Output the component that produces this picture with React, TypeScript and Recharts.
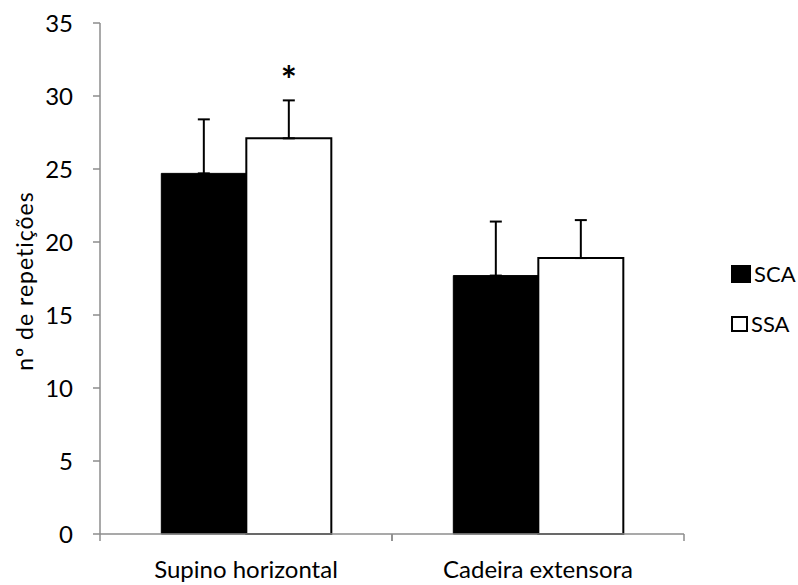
import React from 'react';
import { BarChart, Bar, XAxis, YAxis, ErrorBar, LabelList } from 'recharts';

const categories = ['Supino horizontal', 'Cadeira extensora'];
const seriesNames = ['SCA', 'SSA'];
const scaValues = [24.7, 17.7];
const scaErrors = [3.7, 3.7];
const ssaValues = [27.1, 18.9];
const ssaErrors = [2.6, 2.6];
const ssaMarks = ['*', ''];
const yTicks = [0, 5, 10, 15, 20, 25, 30, 35];

const FONT = 'Lato, "Open Sans", sans-serif';
const AXIS_GRAY = '#8c8c8c';

const data = categories.map((name, i) => ({
  name,
  sca: scaValues[i],
  scaErr: [0, scaErrors[i]],
  ssa: ssaValues[i],
  ssaErr: [0, ssaErrors[i]],
  mark: ssaMarks[i],
}));

const CategoryTick = (props: any) => {
  const { x, y, payload } = props;
  const half = payload?.offset ?? 0;
  return (
    <g>
      <line x1={x - half} x2={x - half} y1={y} y2={y + 7} stroke={AXIS_GRAY} strokeWidth={1.5} />
      <line x1={x + half} x2={x + half} y1={y} y2={y + 7} stroke={AXIS_GRAY} strokeWidth={1.5} />
      <text x={x} y={y + 44} textAnchor="middle" fontFamily={FONT} fontSize={24} fill="#000">
        {payload.value}
      </text>
    </g>
  );
};

const StarLabel = (props: any) => {
  const { x, y, width, height, value, index } = props;
  if (!value) return null;
  const pxPerUnit = height / ssaValues[index];
  const errTop = y - ssaErrors[index] * pxPerUnit;
  return (
    <text x={x + width / 2} y={errTop - 6} textAnchor="middle" fontFamily={FONT} fontWeight="bold" fontSize={38} fill="#000">
      {value}
    </text>
  );
};

export default function App() {
  return (
    <div style={{ position: 'absolute', left: 0, top: 0, width: 798, height: 585, background: '#fff' }}>
      <BarChart
        width={798}
        height={585}
        data={data}
        margin={{ top: 23, right: 114, bottom: 0, left: 10 }}
        barCategoryGap="21%"
        barGap={0}
      >
        <XAxis
          dataKey="name"
          axisLine={{ stroke: AXIS_GRAY, strokeWidth: 1.5 }}
          tickLine={false}
          tickSize={0}
          tickMargin={0}
          tick={<CategoryTick />}
          interval={0}
          height={51}
        />
        <YAxis
          width={90}
          domain={[0, 35]}
          ticks={yTicks}
          interval={0}
          axisLine={{ stroke: AXIS_GRAY, strokeWidth: 1.5 }}
          tickLine={{ stroke: AXIS_GRAY, strokeWidth: 1.5 }}
          tickSize={7}
          tickMargin={20}
          tick={{ fill: '#000', fontSize: 24, fontFamily: FONT }}
        />
        <Bar dataKey="sca" name={seriesNames[0]} fill="#000" stroke="#000" strokeWidth={1} isAnimationActive={false}>
          <ErrorBar dataKey="scaErr" direction="y" width={6} stroke="#000" strokeWidth={2} isAnimationActive={false} />
        </Bar>
        <Bar dataKey="ssa" name={seriesNames[1]} fill="#fff" stroke="#000" strokeWidth={2} isAnimationActive={false}>
          <ErrorBar dataKey="ssaErr" direction="y" width={6} stroke="#000" strokeWidth={2} isAnimationActive={false} />
          <LabelList dataKey="mark" content={<StarLabel />} />
        </Bar>
      </BarChart>
      <div
        style={{
          position: 'absolute',
          left: 24,
          top: 281,
          transform: 'translate(-50%, -50%) rotate(-90deg)',
          whiteSpace: 'nowrap',
          fontFamily: FONT,
          fontSize: 23,
          letterSpacing: 1,
          lineHeight: '24px',
        }}
      >
        nº de repetições
      </div>
      <div style={{ position: 'absolute', left: 731, top: 259, fontFamily: FONT, fontSize: 22, lineHeight: '30px' }}>
        {seriesNames.map((s, i) => (
          <div key={s} style={{ display: 'flex', alignItems: 'center', height: 30, marginBottom: i === 0 ? 20 : 0 }}>
            <span
              style={{
                display: 'inline-block',
                boxSizing: 'border-box',
                width: i === 0 ? 20 : 17,
                height: i === 0 ? 18 : 16,
                background: i === 0 ? '#000' : '#fff',
                border: '2px solid #000',
                marginRight: 3,
              }}
            />
            <span>{s}</span>
          </div>
        ))}
      </div>
    </div>
  );
}
